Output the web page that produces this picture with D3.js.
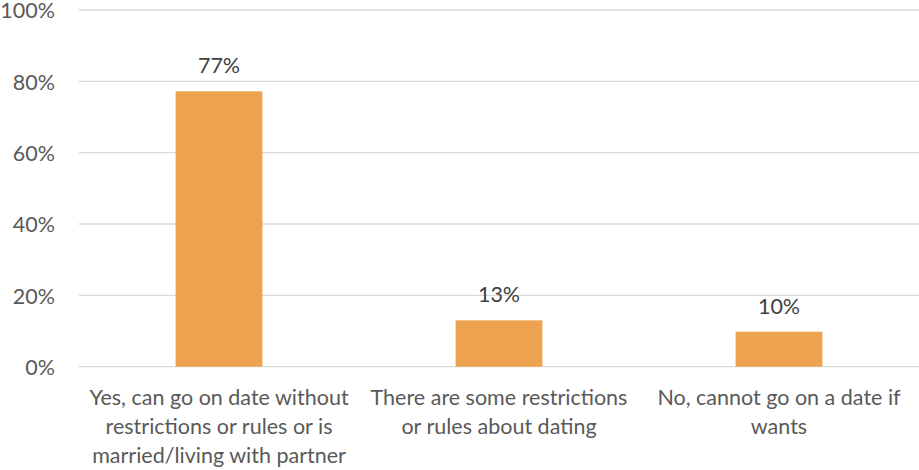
<!DOCTYPE html>
<html><head><meta charset="utf-8">
<script src="https://cdn.jsdelivr.net/npm/d3@7"></script>
<style>body{margin:0;background:#fff}svg{display:block}</style>
</head><body>
<svg id="c" width="919" height="470"></svg>
<script>
const categories = [
  "Yes, can go on date without\nrestrictions or rules or is\nmarried/living with partner",
  "There are some restrictions\nor rules about dating",
  "No, cannot go on a date if\nwants"
];
const values = [0.772, 0.130, 0.098];
const tickValues = [0, 0.2, 0.4, 0.6, 0.8, 1.0];

const svg = d3.select("#c");
const W = 919, H = 470;
const m = {left: 79, right: 0, top: 10, bottom: 103};
const font = "Lato, 'Open Sans', sans-serif";
const textColor = "#595959";
const fs = 21.5;

const x = d3.scaleBand().domain(categories).range([m.left, W - m.right]).paddingInner(0.69).paddingOuter(0.345);
const y = d3.scaleLinear().domain([0, 1]).range([H - m.bottom - 0.3, m.top]);

// gridlines
svg.append("g").selectAll("line").data(tickValues).join("line")
  .attr("x1", m.left).attr("x2", W - m.right)
  .attr("y1", d => y(d)).attr("y2", d => y(d))
  .attr("stroke", "#d9d9d9").attr("stroke-width", 1.3);

// y axis labels
const yAxis = d3.axisLeft(y).tickValues(tickValues).tickFormat(d3.format(".0%")).tickSize(0).tickPadding(0);
const ya = svg.append("g").attr("transform", `translate(${m.left - 24},0)`).call(yAxis);
ya.select(".domain").remove();
ya.selectAll("text").attr("font-family", font).attr("font-size", fs).attr("fill", textColor).attr("dy", "0.36em");

// bars
svg.append("g").selectAll("rect").data(values).join("rect")
  .attr("x", (d, i) => x(categories[i]))
  .attr("width", x.bandwidth())
  .attr("y", d => y(d))
  .attr("height", d => y(0) - y(d))
  .attr("fill", "#EDA24F");

// value labels
svg.append("g").selectAll("text").data(values).join("text")
  .attr("x", (d, i) => x(categories[i]) + x.bandwidth() / 2)
  .attr("y", d => y(d) - 18)
  .attr("text-anchor", "middle")
  .attr("font-family", font).attr("font-size", fs).attr("fill", "#404040")
  .text(d => d3.format(".0%")(d));

// category labels
const xa = svg.append("g").attr("transform", `translate(0,${y(0)})`)
  .call(d3.axisBottom(x).tickSize(0).tickPadding(0).tickFormat(""));
xa.select(".domain").remove();
xa.selectAll(".tick").each(function(d) {
  const t = d3.select(this).append("text")
    .attr("text-anchor", "middle")
    .attr("font-family", font).attr("font-size", fs).attr("fill", textColor);
  d.split("\n").forEach((line, i) => {
    t.append("tspan").attr("x", 0).attr("y", 38 + i * 29.3).text(line);
  });
});
</script>
</body></html>
